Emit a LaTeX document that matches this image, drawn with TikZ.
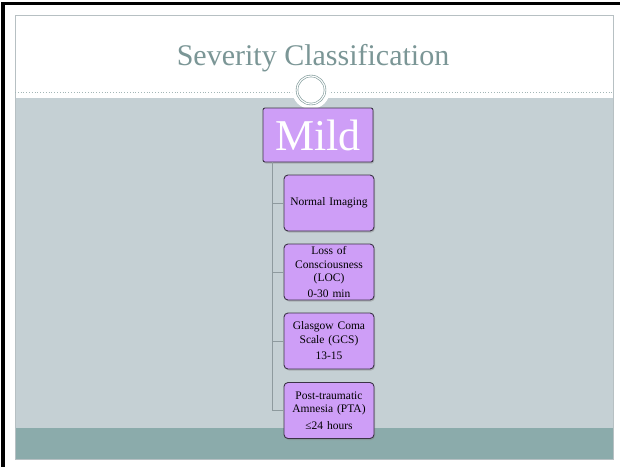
\documentclass[tikz,border=0pt]{standalone}
\usepackage{fontspec}
\setmainfont{Liberation Serif}
\usetikzlibrary{shadows}
\definecolor{titlegray}{HTML}{7B9696}
\definecolor{bandgray}{HTML}{C5D0D4}
\definecolor{footteal}{HTML}{8BABAB}
\definecolor{lavender}{HTML}{CE9EF7}
\definecolor{boxedge}{HTML}{3B3346}
\definecolor{trunkgray}{HTML}{8E9A9E}
\tikzstyle{topbox} = [draw=boxedge, line width=0.9pt, fill=lavender, rounded corners=2pt, minimum width=110pt, minimum height=54pt, inner sep=0pt, text=white, font=\fontsize{44}{44}\selectfont, drop shadow={shadow xshift=1pt, shadow yshift=-1.5pt, opacity=0.4}]
\tikzstyle{levelbox} = [draw=boxedge, line width=0.9pt, fill=lavender, rounded corners=4pt, minimum width=90pt, minimum height=56pt, text width=88pt, align=center, inner sep=0pt, font=\fontsize{11.5}{13.5}\selectfont, drop shadow={shadow xshift=1pt, shadow yshift=-1.5pt, opacity=0.4}]
\tikzstyle{branch} = [draw=trunkgray, line width=0.8pt]

\begin{document}
\begin{tikzpicture}[x=1pt, y=-1pt]
\useasboundingbox (0,0) rectangle (620,467);

% slide
\fill[white] (0,0) rectangle (620,467);
\fill[black] (1,2) rectangle (5,467);
\fill[black] (1,2) rectangle (620,5);
\fill[bandgray] (15,98) rectangle (613,428);
\fill[footteal] (15,428) rectangle (613,459);
\draw[draw=bandgray!80!gray, line width=0.8pt] (15,15) rectangle (613,459);
\draw[titlegray!70, line width=0.8pt, dotted] (15,92) -- (613,92);

\node[text=titlegray, font=\fontsize{30}{30}\selectfont] (title) at (313,58) {Severity Classification};

\fill[white] (311,90) circle (19);
\draw[titlegray, line width=0.6pt, double=white, double distance=1.2pt] (311,90) circle (14);

% boxes
\node[topbox] (mild) at (318,135) {Mild};
\node[levelbox] (imaging) at (329,203) {Normal Imaging};
\node[levelbox] (loc) at (329,272) {Loss of\\Consciousness\\(LOC)\\[2pt]0-30 min};
\node[levelbox] (gcs) at (329,341) {Glasgow Coma\\Scale (GCS)\\[3pt]13-15};
\node[levelbox] (pta) at (329,410.5) {Post-traumatic\\Amnesia (PTA)\\[3pt]≤24 hours};

\coordinate (trunk) at ([xshift=10pt]mild.south west);
\draw[branch] (trunk) |- (imaging.west); % mild-imaging
\draw[branch] (trunk) |- (loc.west); % mild-loc
\draw[branch] (trunk) |- (gcs.west); % mild-gcs
\draw[branch] (trunk) |- (pta.west); % mild-pta

\end{tikzpicture}
\end{document}
